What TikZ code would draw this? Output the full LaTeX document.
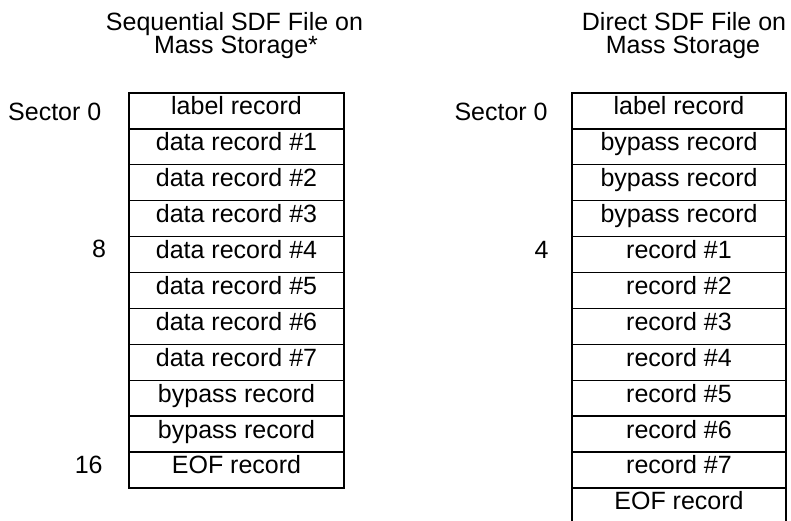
\documentclass[tikz,border=0pt]{standalone}
\usepackage{fontspec}
\setmainfont{Liberation Sans}
\begin{document}
\begin{tikzpicture}[x=0.5pt,y=-0.5pt,
  every node/.style={font=\fontsize{12.5}{10}\selectfont},
  recbox/.style={draw=black, line width=0.65pt, inner sep=0pt,
    minimum height=17.95pt, text height=7pt, text depth=3pt},
  leftbox/.style={recbox, minimum width=107.5pt},
  rightbox/.style={recbox, minimum width=107pt},
  caption/.style={anchor=base, inner sep=0pt},
  sector/.style={anchor=base east, inner sep=0pt}]
\useasboundingbox (0,0) rectangle (791,520);

% column headings
\node[caption] (tl1) at (234.5,30) {Sequential SDF File on};
\node[caption] (tl2) at (236,53) {Mass Storage*};
\node[caption] (tr1) at (684,30) {Direct SDF File on};
\node[caption] (tr2) at (683,53) {Mass Storage};

% sequential file: one box per sector record
\foreach \t [count=\i from 0] in {label record, data record \#1,
    data record \#2, data record \#3, data record \#4, data record \#5,
    data record \#6, data record \#7, bypass record, bypass record,
    EOF record}
  \node[leftbox] (L\i) at (236.5,{110.95+\i*35.9}) {\t};

% direct file
\foreach \t [count=\i from 0] in {label record, bypass record,
    bypass record, bypass record, record \#1, record \#2, record \#3,
    record \#4, record \#5, record \#6, record \#7, EOF record}
  \node[rightbox] (R\i) at (679,{110.95+\i*35.9}) {\t};

% sector numbers
\node[sector] (sl0) at (101.7,120.5) {Sector 0};
\node[sector] (sl8) at (106.5,257.7) {8};
\node[sector] (sl16) at (103,473.3) {16};
\node[sector] (sr0) at (548,120) {Sector 0};
\node[sector] (sr4) at (549,258.3) {4};
\end{tikzpicture}
\end{document}
